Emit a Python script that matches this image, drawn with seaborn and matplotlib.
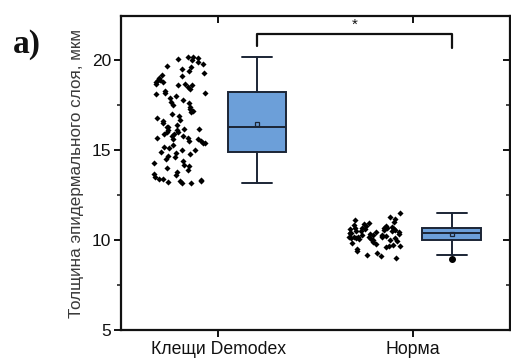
import numpy as np
import pandas as pd
import matplotlib
matplotlib.use("Agg")
import matplotlib.pyplot as plt
import seaborn as sns

categories = ["Клещи Demodex", "Норма"]

demodex_values = [
    13.2, 13.2, 13.25, 13.3, 13.3, 13.35, 13.4, 13.4, 13.5, 13.6, 13.7, 13.8,
    13.9, 14.0, 14.1, 14.2, 14.3, 14.4, 14.5, 14.6, 14.7, 14.8, 14.85, 14.9,
    15.0, 15.0, 15.1, 15.2, 15.3, 15.4, 15.4, 15.5, 15.5, 15.6, 15.6, 15.7,
    15.7, 15.8, 15.8, 15.9, 15.9, 16.0, 16.0, 16.1, 16.1, 16.2, 16.2, 16.3,
    16.3, 16.4, 16.5, 16.6, 16.7, 16.8, 16.9, 17.0, 17.1, 17.2, 17.3, 17.4,
    17.5, 17.6, 17.7, 17.8, 17.9, 18.0, 18.1, 18.2, 18.2, 18.3, 18.4, 18.5,
    18.6, 18.6, 18.7, 18.7, 18.8, 18.8, 18.9, 18.9, 19.0, 19.1, 19.2, 19.3,
    19.4, 19.5, 19.6, 19.7, 19.8, 19.9, 20.0, 20.05, 20.1, 20.15, 20.2,
]
norma_values = [
    9.0, 9.1, 9.2, 9.3, 9.4, 9.5, 9.6, 9.65, 9.7, 9.75, 9.8, 9.85, 9.9, 9.95,
    10.0, 10.0, 10.05, 10.05, 10.1, 10.1, 10.1, 10.15, 10.15, 10.2, 10.2, 10.2,
    10.25, 10.25, 10.3, 10.3, 10.3, 10.35, 10.35, 10.4, 10.4, 10.4, 10.45,
    10.45, 10.5, 10.5, 10.5, 10.55, 10.55, 10.6, 10.6, 10.6, 10.65, 10.65,
    10.7, 10.7, 10.75, 10.75, 10.8, 10.8, 10.85, 10.9, 10.95, 11.0, 11.1,
    11.2, 11.3, 11.5,
]

# box statistics
box_q1 = [14.9, 10.0]
box_med = [16.3, 10.37]
box_q3 = [18.25, 10.68]
box_whislo = [13.17, 9.15]
box_whishi = [20.2, 11.52]
box_mean = [16.44, 10.35]
box_fliers = [[], [8.94]]

ylabel = "Толщина эпидермального слоя, мкм"
panel_label = "а)"
sig_label = "*"

sns.set_theme(style="white")
plt.rcParams["font.family"] = ["Liberation Sans", "DejaVu Sans"]

df = pd.DataFrame({
    "group": [categories[0]] * len(demodex_values) + [categories[1]] * len(norma_values),
    "value": demodex_values + norma_values,
})

fig = plt.figure(figsize=(5.11, 3.58), dpi=100)
ax = fig.add_axes([0.237, 0.078, 0.761, 0.877])

np.random.seed(3)
sns.stripplot(data=df, x="group", y="value", order=categories, jitter=0.14,
              color="black", marker="D", size=3.1, linewidth=0, ax=ax)
shift = 0.2
for coll in ax.collections:
    off = coll.get_offsets()
    off[:, 0] = off[:, 0] - shift
    coll.set_offsets(off)

stats = []
for i in range(len(categories)):
    stats.append(dict(q1=box_q1[i], med=box_med[i], q3=box_q3[i],
                      whislo=box_whislo[i], whishi=box_whishi[i],
                      mean=box_mean[i], fliers=box_fliers[i]))
edge = "#1b2535"
bp = ax.bxp(stats, positions=[i + shift for i in range(len(categories))],
            widths=0.3, capwidths=0.155, patch_artist=True, showmeans=True,
            boxprops=dict(facecolor="#6c9fd9", edgecolor=edge, linewidth=1.4),
            medianprops=dict(color=edge, linewidth=1.4),
            whiskerprops=dict(color=edge, linewidth=1.4),
            capprops=dict(color=edge, linewidth=1.4),
            meanprops=dict(marker="s", markersize=3.5, markerfacecolor="none",
                           markeredgecolor=edge, markeredgewidth=0.9),
            flierprops=dict(marker="o", markersize=4, markerfacecolor="black",
                            markeredgecolor="black"),
            zorder=3)

ax.set_xlim(-0.5, 1.5)
ax.set_ylim(5, 22.45)
ax.set_xticks(range(len(categories)))
ax.set_xticklabels(categories)
ax.set_yticks([5, 10, 15, 20])
ax.set_yticks([7.5, 12.5, 17.5], minor=True)
ax.set_xlabel("")
ax.set_ylabel(ylabel, fontsize=12.3, color="#3a3a3a", labelpad=6)

for s in ax.spines.values():
    s.set_visible(True)
    s.set_color("#111111")
    s.set_linewidth(1.6)

ax.tick_params(axis="y", which="major", left=True, right=True, direction="out",
               length=5, width=1.4, labelsize=12.5, colors="#111111", pad=2)
ax.tick_params(axis="y", which="minor", left=True, right=True, direction="out",
               length=3, width=1.2)
ax.tick_params(axis="x", which="major", bottom=True, top=True, direction="out",
               length=5, width=1.4, labelsize=12.7, colors="#111111", pad=3)
# mirrored ticks point inward
for t in ax.yaxis.get_major_ticks() + ax.yaxis.get_minor_ticks():
    t.tick2line.set_marker(matplotlib.lines.TICKLEFT)
for t in ax.xaxis.get_major_ticks():
    t.tick2line.set_marker(matplotlib.lines.TICKDOWN)

# significance bracket
x0, x1 = 0 + shift, 1 + shift
ytop = 21.45
ax.plot([x0, x0, x1, x1], [20.8, ytop, ytop, 20.65], color="#111111",
        linewidth=1.6, clip_on=False, zorder=4)
ax.text((x0 + x1) / 2, ytop + 0.12, sig_label, ha="center", va="bottom",
        fontsize=11, color="#111111")

fig.text(0.025, 0.875, panel_label, fontsize=24, fontweight="bold",
         family=["Liberation Serif", "DejaVu Serif"], ha="left", va="center",
         color="#111111")

fig.savefig("out.png", dpi=100)
